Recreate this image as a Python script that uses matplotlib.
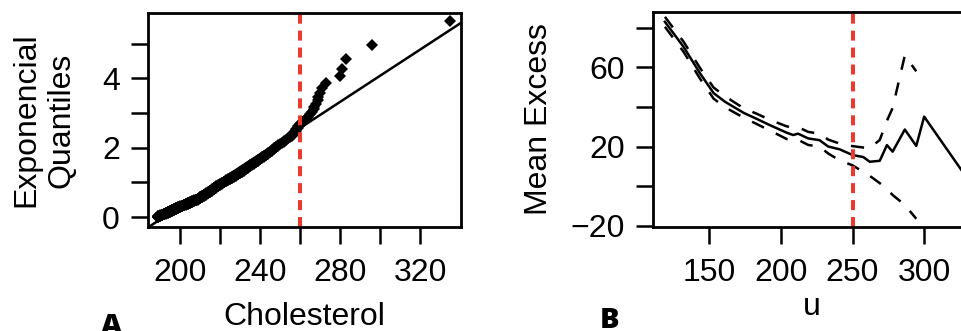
import numpy as np
import matplotlib.pyplot as plt

plt.rcParams['font.family'] = ['Liberation Sans', 'DejaVu Sans']
plt.rcParams['lines.scale_dashes'] = False

# cholesterol sample, stored as value / count
chol_values = [189, 190, 191, 192, 193, 194, 195, 196, 197, 198,
               199, 200, 201, 202, 203, 204, 205, 206, 207, 208,
               209, 210, 211, 212, 213, 214, 215, 216, 217, 218,
               219, 220, 221, 222, 223, 224, 225, 226, 227, 228,
               229, 230, 231, 232, 233, 234, 235, 236, 237, 238,
               239, 240, 241, 242, 243, 244, 245, 246, 247, 248,
               249, 250, 251, 252, 253, 254, 255,
               256, 257, 258, 259, 260,
               261, 262, 263, 264, 265,
               266, 267, 268, 269, 270,
               271, 273, 280, 281, 283, 296, 335]
chol_counts = [6, 7, 7, 6, 7, 6, 7, 7, 6, 7,
               5, 5, 5, 5, 5, 5, 5, 5, 4, 4,
               6, 6, 6, 5, 6, 5, 6, 5, 6, 5,
               4, 4, 4, 3, 4, 3, 3, 3, 3, 3,
               3, 3, 3, 3, 3, 3, 3, 2, 2, 2,
               3, 2, 2, 2, 2, 2, 2, 2, 2, 2,
               2, 1, 1, 2, 1, 1, 1,
               2, 2, 2, 2, 1,
               1, 1, 1, 1, 1,
               1, 2, 1, 2, 1,
               1, 1, 1, 1, 1, 1, 1]
chol_cut = 260

# reference line of the exponential QQ plot
qq_slope = 1 / 26.5
qq_intercept = -192 / 26.5

# mean excess function with its confidence band
u = [119, 132, 143.5, 153, 161, 174, 183, 192, 204, 208.5, 212, 219, 227,
     233, 241, 250, 257.5, 262, 269, 274, 278, 286.5, 294.5, 300, 330]
mean_excess = [83, 70.4, 57, 47, 42.6, 37, 34, 30.9, 27, 25.8, 26.5, 24.1,
               23.2, 20, 18.6, 15.7, 14.7, 12.3, 12.8, 20.7, 17.4, 28.6,
               20.3, 35.1, 4]
me_upper = [85.5, 73, 59.7, 49.8, 45.4, 39.3, 36.6, 33.6, 30.2, 29.6, 29.8,
            27.4, 26.5, 23.5, 21.5, 20.2, 19.5, 19.2, 23.3, 33, 39.5, 66, 58,
            np.nan, np.nan]
me_lower = [80.5, 67.9, 54.3, 44.2, 39.8, 34.6, 31.4, 28.2, 23.8, 23.2, 23.4,
            20.8, 19.9, 16.5, 13, 10.5, 7.2, 5.2, 1.5, -1.5, -4.5, -9.5, -16.5,
            np.nan, np.nan]
u_cut = 250

red = '#EA3A2F'

chol = np.repeat(chol_values, chol_counts)
n = len(chol)
exp_q = -np.log(1 - np.arange(1, n + 1) / (n + 1))

fig = plt.figure(figsize=(9.62, 3.31), dpi=100)

# A: exponential QQ plot
ax1 = fig.add_axes([0.1542, 0.3151, 0.3250, 0.6447])
ax1.plot(chol, exp_q, 'D', color='black', ms=6.6, mew=0)
ax1.axline((0, qq_intercept), slope=qq_slope, color='black', lw=1.8)
ax1.axvline(chol_cut, color=red, lw=2.9, dashes=(7.2, 5), dash_capstyle='butt')
ax1.set_xlim(184.2, 340.5)
ax1.set_ylim(-0.28, 5.88)
xt = list(range(200, 321, 20))
ax1.set_xticks(xt, labels=[str(t) if i % 2 == 0 else '' for i, t in enumerate(xt)])
yt = list(range(0, 6))
ax1.set_yticks(yt, labels=[str(t) if i % 2 == 0 else '' for i, t in enumerate(yt)])
ax1.set_xlabel('Cholesterol', fontsize=23, va='baseline')
ax1.xaxis.set_label_coords(0.5, -0.4606)
ax1.set_ylabel('Exponencial\nQuantiles', fontsize=23, va='center', linespacing=1.2)
ax1.yaxis.set_label_coords(-0.3345, 0.5)

# B: mean excess plot
ax2 = fig.add_axes([0.6791, 0.3151, 0.3292, 0.6495])
ax2.plot(u, mean_excess, color='black', lw=1.8)
ax2.plot(u, me_upper, color='black', lw=1.8, dashes=(9.5, 9.5))
ax2.plot(u, me_lower, color='black', lw=1.8, dashes=(9.5, 9.5))
ax2.axvline(u_cut, color=red, lw=2.9, dashes=(7.2, 5), dash_capstyle='butt')
ax2.set_xlim(110.9, 332)
ax2.set_ylim(-20.5, 88.1)
ax2.set_xticks([150, 200, 250, 300])
yt2 = [-20, 0, 20, 40, 60, 80]
ax2.set_yticks(yt2, labels=['\u221220', '', '20', '', '60', ''])
ax2.set_xlabel('u', fontsize=23, va='baseline')
ax2.xaxis.set_label_coords(0.5, -0.4107)
ax2.set_ylabel('Mean Excess', fontsize=23, va='center')
ax2.yaxis.set_label_coords(-0.3609, 0.5)

for ax in (ax1, ax2):
    for s in ax.spines.values():
        s.set_linewidth(2)
    ax.tick_params(direction='out', length=12.5, width=1.8, labelsize=23)
    ax.tick_params(axis='x', pad=10)
    ax.tick_params(axis='y', pad=8)

# panel letters
fig.text(112 / 962, 1 - 334 / 331, 'A', ha='center', va='baseline',
         family='Open Sans', weight='heavy', fontsize=21)
fig.text(609.5 / 962, 1 - 327.7 / 331, 'B', ha='center', va='baseline',
         family='Open Sans', weight='heavy', fontsize=21)

fig.savefig('out.png', dpi=100)
